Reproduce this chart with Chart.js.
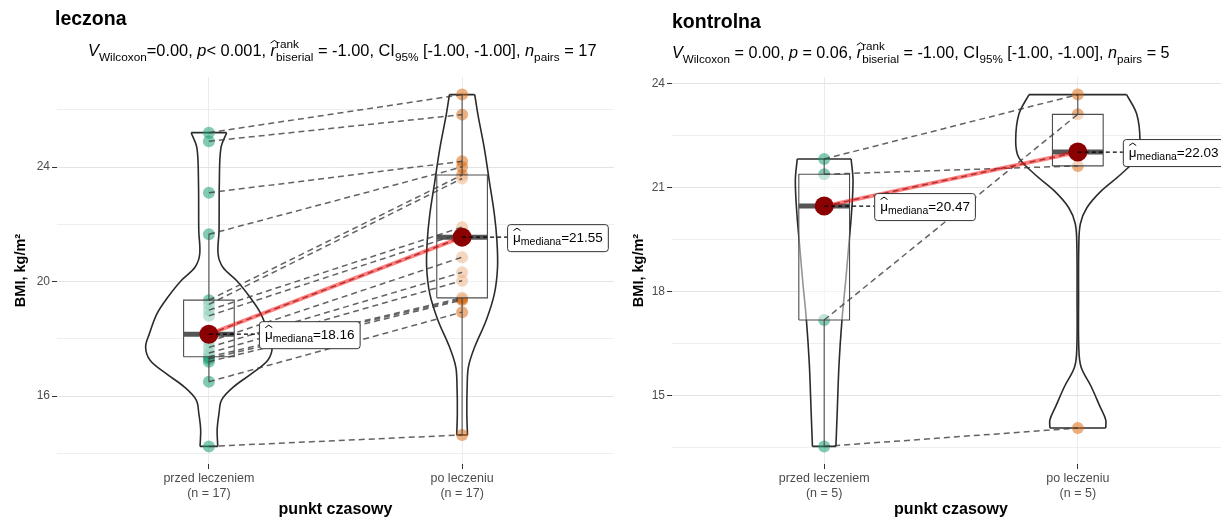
<!DOCTYPE html>
<html><head><meta charset="utf-8">
<script src="https://cdn.jsdelivr.net/npm/chart.js@4.4.1/dist/chart.umd.min.js"></script>
<style>
html,body{margin:0;padding:0;background:#fff;overflow:hidden;width:1221px;height:519px}
.panel{position:absolute;top:0;height:519px}
#p1{left:0;width:615px}
#p2{left:615px;width:616px}
</style></head><body>
<div class="panel" id="p1"><canvas id="c1" width="615" height="519"></canvas></div>
<div class="panel" id="p2"><canvas id="c2" width="616" height="519"></canvas></div>
<script>
const categories = ['przed leczeniem', 'po leczeniu'];

// BMI - ten sam indeks = ten sam pacjent
const leczonaPrzed = [14.24, 16.5, 17.2, 17.3, 17.37, 17.5, 17.7, 17.9, 18.16, 18.8, 19.0, 19.2, 19.35, 21.65, 23.1, 24.9, 25.2];
const leczonaPo = [14.64, 18.93, 19.35, 19.4, 19.43, 20.03, 20.32, 20.85, 21.55, 21.7, 21.9, 23.6, 23.72, 24.0, 24.2, 25.83, 26.53];
const kontrolnaPrzed = [13.53, 17.18, 20.47, 21.39, 21.83];
const kontrolnaPo = [14.06, 23.12, 22.03, 21.63, 23.69];

// profile skrzypiec: [BMI, względna szerokość]
const violinLeczonaPrzed = [[25.2, 0.28], [24.67, 0.19], [23.5, 0.165], [21.77, 0.16], [20.96, 0.145], [20.5, 0.22], [20.03, 0.44], [19.45, 0.65], [18.88, 0.82], [18.18, 0.94], [17.71, 1.0], [17.25, 0.93], [16.79, 0.68], [16.32, 0.39], [15.86, 0.2], [15.4, 0.16], [14.82, 0.13], [14.24, 0.14]];
const violinLeczonaPo = [[26.53, 0.2], [25.83, 0.25], [24.67, 0.35], [23.51, 0.43], [22.35, 0.51], [21.43, 0.55], [20.5, 0.56], [19.57, 0.51], [18.64, 0.38], [17.72, 0.2], [17.02, 0.1], [16.32, 0.08], [15.4, 0.075], [14.64, 0.085]];
const violinKontrolnaPrzed = [[21.83, 0.425], [21.2, 0.455], [20.24, 0.43], [19.28, 0.385], [18.33, 0.34], [17.17, 0.28], [15.93, 0.235], [14.49, 0.205], [13.53, 0.185]];
const violinKontrolnaPo = [[23.69, 0.77], [23.12, 0.93], [22.35, 0.98], [21.87, 0.93], [21.39, 0.68], [20.91, 0.37], [20.43, 0.145], [19.96, 0.04], [19.28, 0.015], [17.85, 0.012], [16.41, 0.015], [15.83, 0.05], [15.26, 0.21], [14.68, 0.35], [14.3, 0.44], [14.06, 0.44]];

const leczonaTicks = [16, 20, 24];
const leczonaMinor = [14, 18, 22, 26];
const kontrolnaTicks = [15, 18, 21, 24];
const kontrolnaMinor = [13.5, 16.5, 19.5, 22.5];

const F = '"Liberation Sans", Arial, Helvetica, sans-serif';
const VW = 0.25, BW = 0.1;
const GAP = {x: null, y: null};

function quantile(arr, p) {
    const s = [...arr].sort((a, b) => a - b);
    const h = (s.length - 1) * p, lo = Math.floor(h);
    const next = lo + 1 < s.length ? s[lo + 1] : s[lo];
    return s[lo] + (h - lo) * (next - s[lo]);
}

function boxStats(arr) {
    const q1 = quantile(arr, 0.25), med = quantile(arr, 0.5), q3 = quantile(arr, 0.75);
    const iqr = q3 - q1;
    const inside = arr.filter(v => v >= q1 - 1.5 * iqr && v <= q3 + 1.5 * iqr);
    return {q1, med, q3, lo: Math.min(...inside), hi: Math.max(...inside)};
}

function lineSet(data, color, width, order, extra) {
    return Object.assign({data, showLine: true, pointRadius: 0, borderColor: color, borderWidth: width,
        backgroundColor: 'transparent', fill: false, tension: 0, order}, extra || {});
}

function violinSets(profile, cx) {
    const right = profile.map(([v, w]) => ({x: cx + w * VW, y: v}));
    const left = profile.map(([v, w]) => ({x: cx - w * VW, y: v}));
    const n = profile.length - 1;
    const edges = [left[0], right[0], GAP, left[n], right[n]];
    return [
        lineSet(right, '#2b2b2b', 1.6, 20, {tension: 0.35}),
        lineSet(left, '#2b2b2b', 1.6, 20, {tension: 0.35}),
        lineSet(edges, '#2b2b2b', 1.6, 20)
    ];
}

function boxSets(st, cx) {
    const box = [{x: cx - BW, y: st.q1}, {x: cx + BW, y: st.q1}, {x: cx + BW, y: st.q3}, {x: cx - BW, y: st.q3}, {x: cx - BW, y: st.q1}];
    const wh = [{x: cx, y: st.q3}, {x: cx, y: st.hi}, GAP, {x: cx, y: st.q1}, {x: cx, y: st.lo}];
    return [
        lineSet(box, '#4d4d4d', 1.1, 16, {fill: 'shape', backgroundColor: 'rgba(255,255,255,0.5)'}),
        lineSet(wh, '#4d4d4d', 1.1, 15),
        lineSet([{x: cx - BW, y: st.med}, {x: cx + BW, y: st.med}], '#555555', 5, 14)
    ];
}

function drawHat(ctx, cx, y, w) {
    ctx.save();
    ctx.lineWidth = 1;
    ctx.strokeStyle = '#000';
    ctx.beginPath();
    ctx.moveTo(cx - w / 2, y + w * 0.35);
    ctx.lineTo(cx, y);
    ctx.lineTo(cx + w / 2, y + w * 0.35);
    ctx.stroke();
    ctx.restore();
}

function drawRich(ctx, parts, x, y, size, targetW) {
    const run = (s, draw) => {
        let cx = x;
        for (const [kind, a, b] of parts) {
            if (kind === 'n' || kind === 'i' || kind === 'hat') {
                ctx.font = (kind === 'n' ? '' : 'italic ') + s + 'px ' + F;
                const w = ctx.measureText(a).width;
                if (draw) {
                    ctx.fillText(a, cx, y);
                    if (kind === 'hat') drawHat(ctx, cx + w / 2 + 1, y - s * 0.95, s * 0.45);
                }
                cx += w;
            } else if (kind === 'sub') {
                ctx.font = (s * 0.72) + 'px ' + F;
                if (draw) ctx.fillText(a, cx, y + s * 0.3);
                cx += ctx.measureText(a).width;
            } else if (kind === 'stack') {
                ctx.font = (s * 0.72) + 'px ' + F;
                if (draw) {
                    ctx.fillText(a, cx, y - s * 0.5);
                    ctx.fillText(b, cx, y + s * 0.3);
                }
                cx += Math.max(ctx.measureText(a).width, ctx.measureText(b).width);
            }
        }
        return cx - x;
    };
    const w0 = run(size, false);
    run(size * targetW / w0, true);
}

const titlePlugin = {
    id: 'panelTitle',
    afterDraw(chart, args, o) {
        const ctx = chart.ctx;
        ctx.save();
        ctx.fillStyle = '#000';
        ctx.textBaseline = 'alphabetic';
        ctx.textAlign = 'left';
        ctx.font = 'bold 19.5px ' + F;
        ctx.fillText(o.title, o.tx, o.ty);
        drawRich(ctx, o.parts, o.sx, o.sy, 14, o.sw);
        ctx.restore();
    }
};

const medianLabelPlugin = {
    id: 'medianLabels',
    afterDatasetsDraw(chart, args, o) {
        const {ctx, scales: {x, y}} = chart;
        ctx.save();
        o.items.forEach(({cat, value, dx}) => {
            const px = x.getPixelForValue(cat), py = y.getPixelForValue(value);
            const txt = '=' + value.toFixed(2);
            ctx.font = '13.5px ' + F;
            const wMu = ctx.measureText('μ').width, wVal = ctx.measureText(txt).width;
            ctx.font = '10.5px ' + F;
            const wSub = ctx.measureText('mediana').width;
            const bx = px + dx, by = py - 13, bw = wMu + wSub + wVal + 11, bh = 27;
            // linia prowadząca
            ctx.setLineDash([4, 3]);
            ctx.strokeStyle = '#000';
            ctx.lineWidth = 1.2;
            ctx.beginPath();
            ctx.moveTo(px, py);
            ctx.lineTo(bx, py);
            ctx.stroke();
            ctx.setLineDash([]);
            ctx.beginPath();
            ctx.roundRect(bx + 0.5, by + 0.5, bw, bh, 3);
            ctx.fillStyle = '#fff';
            ctx.fill();
            ctx.strokeStyle = '#333';
            ctx.lineWidth = 1;
            ctx.stroke();
            ctx.fillStyle = '#000';
            ctx.textBaseline = 'alphabetic';
            ctx.font = '13.5px ' + F;
            ctx.fillText('μ', bx + 6, py + 5);
            drawHat(ctx, bx + 6 + wMu / 2, py - 9, 7);
            ctx.font = '10.5px ' + F;
            ctx.fillText('mediana', bx + 6 + wMu, py + 8);
            ctx.font = '13.5px ' + F;
            ctx.fillText(txt, bx + 6 + wMu + wSub, py + 5);
        });
        ctx.restore();
    }
};

function makeChart(canvasId, p) {
    const bs = boxStats(p.before), as = boxStats(p.after);
    const all = p.before.concat(p.after);
    const lo = Math.min(...all), hi = Math.max(...all), pad = (hi - lo) * 0.05;
    const pairs = [];
    p.before.forEach((b, i) => { pairs.push({x: 1, y: b}, {x: 2, y: p.after[i]}, GAP); });

    const datasets = [
        ...violinSets(p.vBefore, 1),
        ...violinSets(p.vAfter, 2),
        {data: p.before.map(v => ({x: 1, y: v})), pointRadius: 6, backgroundColor: 'rgba(27,158,119,0.55)', borderWidth: 0, order: 18},
        {data: p.after.map(v => ({x: 2, y: v})), pointRadius: 6, backgroundColor: 'rgba(217,95,2,0.5)', borderWidth: 0, order: 18},
        ...boxSets(bs, 1),
        ...boxSets(as, 2),
        lineSet(pairs, 'rgba(60,60,60,0.8)', 1.5, 12, {borderDash: [6, 4]}),
        lineSet([{x: 1, y: bs.med}, {x: 2, y: as.med}], 'rgba(255,0,0,0.5)', 4, 10),
        {data: [{x: 1, y: bs.med}, {x: 2, y: as.med}], pointRadius: 9.5, backgroundColor: '#8B0000', borderWidth: 0, order: 8}
    ];

    const isMajor = v => p.major.includes(v);

    return new Chart(document.getElementById(canvasId), {
        type: 'scatter',
        data: {datasets},
        options: {
            responsive: false,
            animation: false,
            events: [],
            layout: {autoPadding: false, padding: {top: 77, left: 8, right: 1, bottom: 0}},
            plugins: {
                legend: {display: false},
                tooltip: {enabled: false},
                medianLabels: {items: [{cat: 1, value: bs.med, dx: 50}, {cat: 2, value: as.med, dx: 45}]},
                panelTitle: p.head
            },
            scales: {
                x: {
                    type: 'linear', min: 0.4, max: 2.6,
                    afterBuildTicks: s => { s.ticks = [{value: 1}, {value: 2}]; },
                    afterFit: s => { s.height = 55; s.paddingLeft = 0; s.paddingRight = 0; },
                    grid: {color: '#ebebeb', tickColor: '#333', tickLength: 5},
                    border: {display: false},
                    ticks: {autoSkip: false, maxRotation: 0, padding: 2, color: '#4d4d4d', font: {family: F, size: 12.5},
                        callback: v => [categories[v - 1], '(n = ' + p.before.length + ')']},
                    title: {display: true, text: 'punkt czasowy', color: '#000', font: {family: F, size: 16, weight: 'bold'}, padding: {top: 0, bottom: 0}}
                },
                y: {
                    type: 'linear', min: lo - pad, max: hi + pad,
                    afterBuildTicks: s => { s.ticks = p.major.concat(p.minor).sort((a, b) => a - b).map(v => ({value: v})); },
                    afterFit: s => { s.width = 49; s.paddingTop = 0; s.paddingBottom = 0; },
                    grid: {
                        color: c => isMajor(c.tick.value) ? '#e4e4e4' : '#efefef',
                        tickColor: c => isMajor(c.tick.value) ? '#333' : 'rgba(0,0,0,0)',
                        tickLength: 5
                    },
                    border: {display: false},
                    ticks: {autoSkip: false, padding: 2, color: '#4d4d4d', font: {family: F, size: 12},
                        callback: v => isMajor(v) ? String(v) : ''},
                    title: {display: true, text: 'BMI, kg/m²', color: '#000', font: {family: F, size: 14.5, weight: 'bold'}, padding: {top: p.titlePad, bottom: 0}}
                }
            }
        },
        plugins: [medianLabelPlugin, titlePlugin]
    });
}

makeChart('c1', {
    before: leczonaPrzed, after: leczonaPo,
    vBefore: violinLeczonaPrzed, vAfter: violinLeczonaPo,
    major: leczonaTicks, minor: leczonaMinor, titlePad: 4,
    head: {
        title: 'leczona', tx: 55, ty: 25, sx: 88, sy: 56, sw: 509,
        parts: [['i', 'V'], ['sub', 'Wilcoxon'], ['n', '=0.00, '], ['i', 'p'], ['n', '< 0.001, '], ['hat', 'r'], ['stack', 'rank', 'biserial'],
            ['n', ' = -1.00, CI'], ['sub', '95%'], ['n', ' [-1.00, -1.00], '], ['i', 'n'], ['sub', 'pairs'], ['n', ' = 17']]
    }
});

makeChart('c2', {
    before: kontrolnaPrzed, after: kontrolnaPo,
    vBefore: violinKontrolnaPrzed, vAfter: violinKontrolnaPo,
    major: kontrolnaTicks, minor: kontrolnaMinor, titlePad: 7,
    head: {
        title: 'kontrolna', tx: 57, ty: 28, sx: 57, sy: 58, sw: 498,
        parts: [['i', 'V'], ['sub', 'Wilcoxon'], ['n', ' = 0.00, '], ['i', 'p'], ['n', ' = 0.06, '], ['hat', 'r'], ['stack', 'rank', 'biserial'],
            ['n', ' = -1.00, CI'], ['sub', '95%'], ['n', ' [-1.00, -1.00], '], ['i', 'n'], ['sub', 'pairs'], ['n', ' = 5']]
    }
});
</script>
</body></html>
